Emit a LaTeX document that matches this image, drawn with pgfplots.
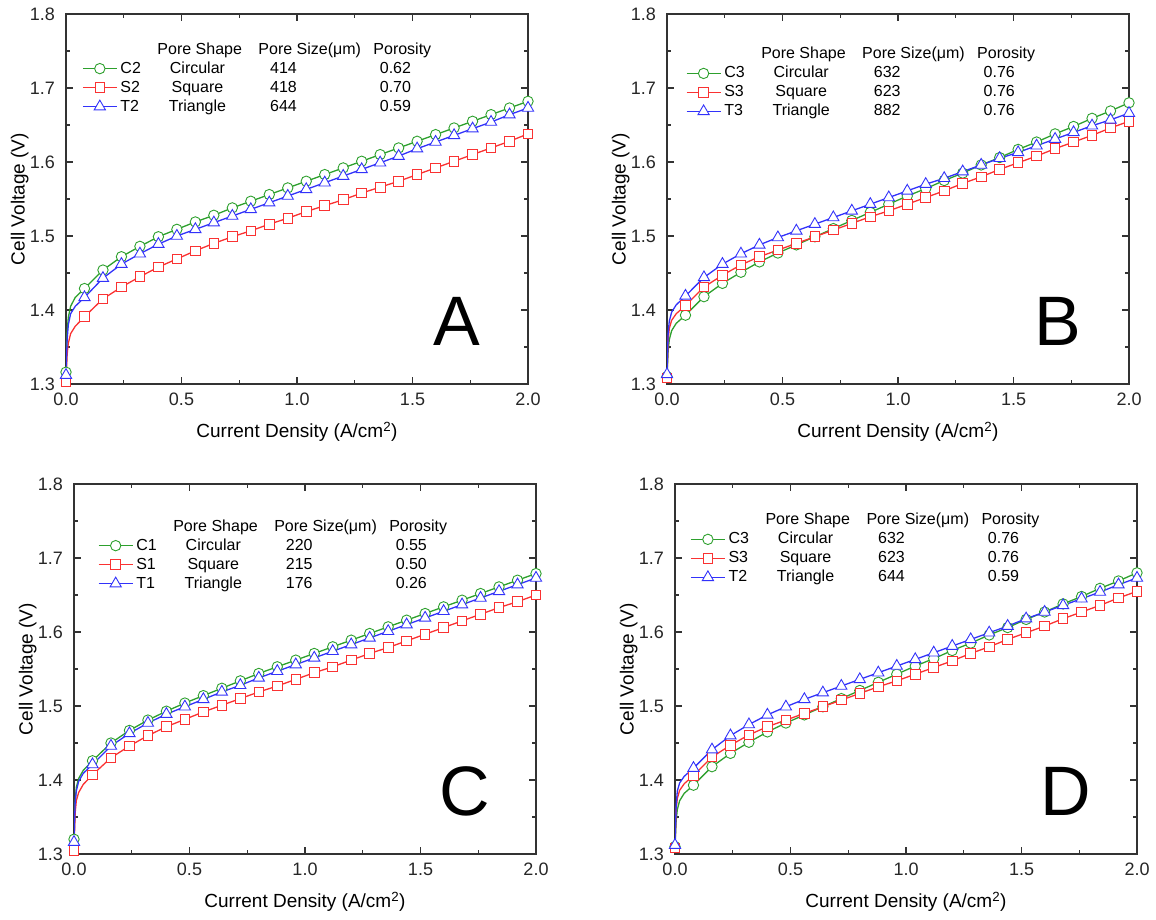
\documentclass[border=0pt]{standalone}
\usepackage{fontspec}
\setmainfont{Liberation Sans}
\usepackage{pgfplots}
\usepackage{pgfplotstable}
\pgfplotsset{compat=1.18}

\definecolor{cg}{RGB}{45,160,45}
\definecolor{cr}{RGB}{250,50,50}
\definecolor{cb}{RGB}{50,50,250}

% columns: current density, circular, square, triangle
\pgfplotstableread{
x C S T
0 1.316 1.303 1.312
0.005 1.370 1.340 1.360
0.01 1.390 1.355 1.380
0.02 1.405 1.368 1.395
0.04 1.417 1.378 1.405
0.08 1.429 1.391 1.417
0.16 1.454 1.415 1.443
0.24 1.472 1.431 1.462
0.32 1.486 1.445 1.476
0.40 1.499 1.458 1.489
0.48 1.509 1.469 1.500
0.56 1.519 1.480 1.509
0.64 1.528 1.490 1.518
0.72 1.538 1.499 1.527
0.80 1.547 1.507 1.536
0.88 1.556 1.516 1.545
0.96 1.565 1.524 1.554
1.04 1.574 1.533 1.563
1.12 1.583 1.541 1.572
1.20 1.592 1.549 1.581
1.28 1.601 1.558 1.590
1.36 1.610 1.566 1.599
1.44 1.619 1.574 1.608
1.52 1.628 1.583 1.618
1.60 1.637 1.592 1.627
1.68 1.646 1.601 1.636
1.76 1.655 1.610 1.645
1.84 1.664 1.619 1.654
1.92 1.673 1.628 1.664
2.00 1.682 1.638 1.673
}\tabA

\pgfplotstableread{
x C S T
0 1.310 1.308 1.313
0.005 1.345 1.360 1.370
0.01 1.360 1.375 1.385
0.02 1.372 1.386 1.397
0.04 1.382 1.395 1.407
0.08 1.393 1.406 1.419
0.16 1.418 1.431 1.444
0.24 1.436 1.447 1.462
0.32 1.451 1.461 1.476
0.40 1.465 1.472 1.488
0.48 1.477 1.481 1.498
0.56 1.488 1.490 1.507
0.64 1.499 1.499 1.516
0.72 1.510 1.508 1.525
0.80 1.521 1.517 1.534
0.88 1.532 1.526 1.543
0.96 1.543 1.534 1.552
1.04 1.554 1.543 1.561
1.12 1.564 1.552 1.570
1.20 1.575 1.561 1.578
1.28 1.585 1.571 1.587
1.36 1.596 1.580 1.596
1.44 1.606 1.590 1.605
1.52 1.617 1.599 1.613
1.60 1.627 1.608 1.622
1.68 1.638 1.618 1.631
1.76 1.648 1.627 1.640
1.84 1.659 1.636 1.649
1.92 1.669 1.646 1.657
2.00 1.680 1.655 1.666
}\tabB

\pgfplotstableread{
x C S T
0 1.320 1.305 1.316
0.005 1.370 1.355 1.370
0.01 1.390 1.372 1.385
0.02 1.402 1.383 1.398
0.04 1.413 1.394 1.409
0.08 1.426 1.407 1.421
0.16 1.450 1.430 1.446
0.24 1.467 1.446 1.463
0.32 1.481 1.460 1.477
0.40 1.493 1.472 1.489
0.48 1.504 1.482 1.499
0.56 1.514 1.492 1.509
0.64 1.524 1.501 1.519
0.72 1.534 1.510 1.528
0.80 1.544 1.519 1.538
0.88 1.553 1.527 1.547
0.96 1.562 1.536 1.556
1.04 1.571 1.545 1.565
1.12 1.580 1.553 1.574
1.20 1.589 1.562 1.583
1.28 1.598 1.571 1.592
1.36 1.607 1.579 1.601
1.44 1.616 1.588 1.610
1.52 1.625 1.597 1.619
1.60 1.634 1.606 1.628
1.68 1.643 1.615 1.637
1.76 1.652 1.624 1.646
1.84 1.661 1.633 1.655
1.92 1.670 1.641 1.664
2.00 1.679 1.650 1.673
}\tabC

\pgfplotstableread{
x C S T
0 1.310 1.308 1.312
0.005 1.345 1.360 1.365
0.01 1.360 1.375 1.385
0.02 1.372 1.386 1.396
0.04 1.382 1.395 1.405
0.08 1.393 1.406 1.416
0.16 1.418 1.431 1.441
0.24 1.436 1.447 1.460
0.32 1.451 1.461 1.475
0.40 1.465 1.472 1.488
0.48 1.477 1.481 1.499
0.56 1.488 1.490 1.509
0.64 1.499 1.499 1.518
0.72 1.510 1.508 1.527
0.80 1.521 1.517 1.536
0.88 1.532 1.526 1.545
0.96 1.543 1.534 1.554
1.04 1.554 1.543 1.563
1.12 1.564 1.552 1.572
1.20 1.575 1.561 1.581
1.28 1.585 1.571 1.590
1.36 1.596 1.580 1.599
1.44 1.606 1.590 1.608
1.52 1.617 1.599 1.618
1.60 1.627 1.608 1.627
1.68 1.638 1.618 1.636
1.76 1.648 1.627 1.645
1.84 1.659 1.636 1.654
1.92 1.669 1.646 1.664
2.00 1.680 1.655 1.673
}\tabD

\newcommand{\rowtxt}[4]{\makebox[37pt][l]{#1}\makebox[80pt][c]{#2}\makebox[92pt][c]{#3}\makebox[132pt][c]{#4}}
\newcommand{\headtxt}{\makebox[37pt][l]{}\makebox[101pt][l]{Pore Shape}\makebox[115pt][l]{Pore Size(μm)}Porosity}

\tikzset{big/.style={font=\fontsize{70}{70}\selectfont, inner sep=0pt, anchor=center}}

\pgfplotsset{
  panel/.style={
    scale only axis, width=462pt, height=370pt, anchor=south west,
    xmin=0, xmax=2, ymin=1.3, ymax=1.8,
    xtick={0,0.5,1,1.5,2}, ytick={1.3,1.4,1.5,1.6,1.7,1.8},
    minor tick num=1, tick align=inside,
    major tick length=7pt, minor tick length=4pt,
    axis line style={line width=1.3pt, black!80},
    every tick/.style={line width=1.1pt, black!80},
    tick label style={font=\fontsize{18}{18}\selectfont, text=black!85, inner sep=0pt,
      /pgf/number format/fixed, /pgf/number format/fixed zerofill,
      /pgf/number format/precision=1, /pgf/number format/assume math mode=true},
    yticklabel style={xshift=-11pt},
    xticklabel style={yshift=-9pt},
    xlabel={Current Density (A/cm\textsuperscript{2})},
    ylabel={Cell Voltage (V)},
    every axis x label/.style={at={(axis description cs:0.5,-0.13)}, anchor=center,
      font=\fontsize{19}{19}\selectfont},
    every axis y label/.style={at={(axis description cs:-0.1,0.5)}, rotate=90, anchor=center,
      font=\fontsize{19}{19}\selectfont},
    legend cell align=left,
    legend image code/.code={\draw[##1, mark indices={2}] plot coordinates {(0pt,0pt) (17pt,0pt) (34pt,0pt)};},
    legend style={draw=none, fill=none, anchor=north west, inner sep=0pt, outer sep=0pt,
      row sep=4pt, column sep=3pt,
      nodes={inner sep=0pt, text height=12pt, text depth=3pt, font=\fontsize{16}{19}\selectfont}},
  },
  common/.style={line width=1.3pt, mark options={fill=white, line width=0.9pt, solid},
    mark indices={1,6,7,8,9,10,11,12,13,14,15,16,17,18,19,20,21,22,23,24,25,26,27,28,29,30}},
  sc/.style={common, color=cg, mark=*, mark size=5.2pt},
  ss/.style={common, color=cr, mark=square*, mark size=4.8pt},
  st/.style={common, color=cb, mark=triangle*, mark size=6.5pt},
}

\begin{document}
\begin{tikzpicture}
\useasboundingbox (0,0) rectangle (1156pt,919pt);

% A
\begin{axis}[panel, at={(66pt,535pt)},
  legend style={at={(axis description cs:0.035,0.924)}}]
\addlegendimage{empty legend}\addlegendentry{\headtxt}
\addplot[sc] table[x=x,y=C] {\tabA}; \addlegendentry{\rowtxt{C2}{Circular}{414}{0.62}}
\addplot[ss] table[x=x,y=S] {\tabA}; \addlegendentry{\rowtxt{S2}{Square}{418}{0.70}}
\addplot[st] table[x=x,y=T] {\tabA}; \addlegendentry{\rowtxt{T2}{Triangle}{644}{0.59}}
\node[big] at (axis cs:1.69,1.385) {A};
\end{axis}

% B
\begin{axis}[panel, at={(667pt,535pt)},
  legend style={at={(axis description cs:0.041,0.911)}}]
\addlegendimage{empty legend}\addlegendentry{\headtxt}
\addplot[sc] table[x=x,y=C] {\tabB}; \addlegendentry{\rowtxt{C3}{Circular}{632}{0.76}}
\addplot[ss] table[x=x,y=S] {\tabB}; \addlegendentry{\rowtxt{S3}{Square}{623}{0.76}}
\addplot[st] table[x=x,y=T] {\tabB}; \addlegendentry{\rowtxt{T3}{Triangle}{882}{0.76}}
\node[big] at (axis cs:1.69,1.385) {B};
\end{axis}

% C
\begin{axis}[panel, at={(74pt,65pt)},
  legend style={at={(axis description cs:0.052,0.905)}}]
\addlegendimage{empty legend}\addlegendentry{\headtxt}
\addplot[sc] table[x=x,y=C] {\tabC}; \addlegendentry{\rowtxt{C1}{Circular}{220}{0.55}}
\addplot[ss] table[x=x,y=S] {\tabC}; \addlegendentry{\rowtxt{S1}{Square}{215}{0.50}}
\addplot[st] table[x=x,y=T] {\tabC}; \addlegendentry{\rowtxt{T1}{Triangle}{176}{0.26}}
\node[big] at (axis cs:1.69,1.385) {C};
\end{axis}

% D
\begin{axis}[panel, at={(675pt,65pt)},
  legend style={at={(axis description cs:0.033,0.922)}}]
\addlegendimage{empty legend}\addlegendentry{\headtxt}
\addplot[sc] table[x=x,y=C] {\tabD}; \addlegendentry{\rowtxt{C3}{Circular}{632}{0.76}}
\addplot[ss] table[x=x,y=S] {\tabD}; \addlegendentry{\rowtxt{S3}{Square}{623}{0.76}}
\addplot[st] table[x=x,y=T] {\tabD}; \addlegendentry{\rowtxt{T2}{Triangle}{644}{0.59}}
\node[big] at (axis cs:1.69,1.385) {D};
\end{axis}
\end{tikzpicture}
\end{document}
